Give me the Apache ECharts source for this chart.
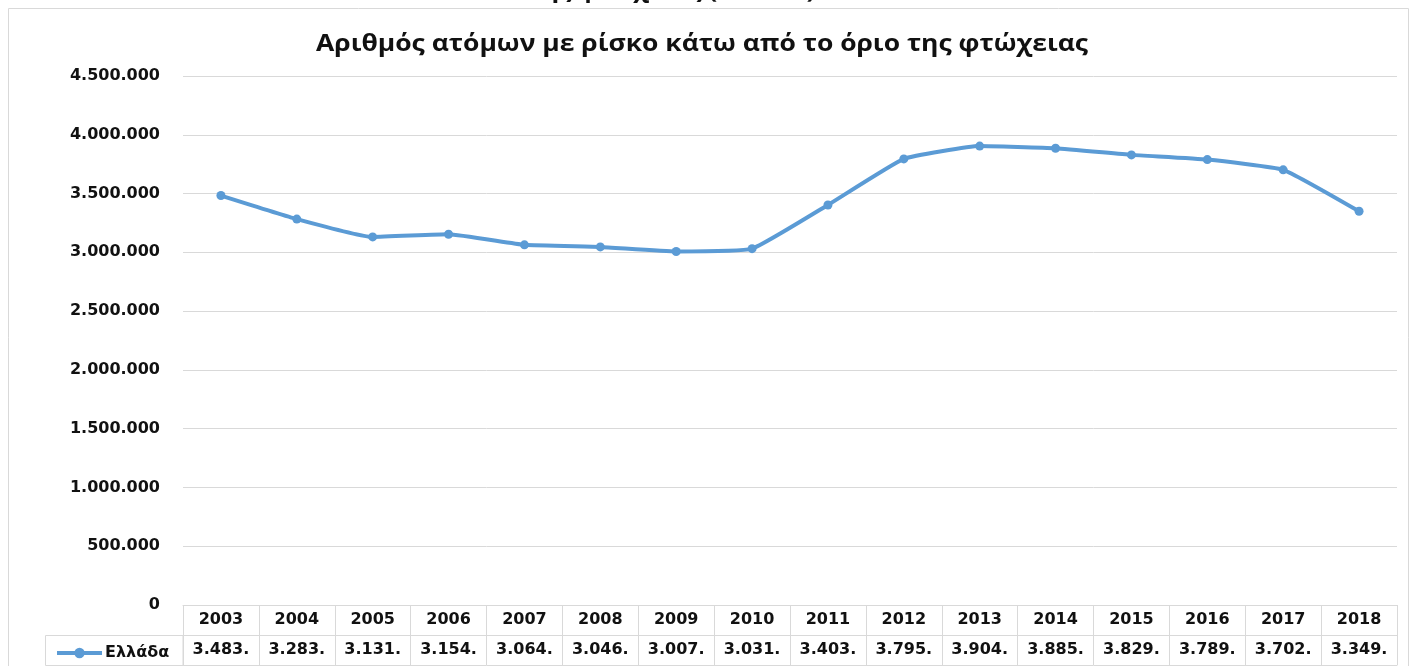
<!DOCTYPE html>
<html>
<head>
<meta charset="utf-8">
<script src="https://cdn.jsdelivr.net/npm/echarts@6/dist/echarts.min.js"></script>
<style>
  html, body { margin: 0; padding: 0; background: #fff; }
  #chart { width: 1410px; height: 666px; }
</style>
</head>
<body>
<div id="chart"></div>
<script>
// χρόνια (κατηγορίες του άξονα x)
const years = ['2003', '2004', '2005', '2006', '2007', '2008', '2009', '2010',
  '2011', '2012', '2013', '2014', '2015', '2016', '2017', '2018']
// άτομα σε κίνδυνο φτώχειας, Ελλάδα
const greece = [3483000, 3283000, 3131000, 3154000, 3064000, 3046000, 3007000, 3031000,
  3403000, 3795000, 3904000, 3885000, 3829000, 3789000, 3702000, 3349000]
const seriesName = 'Ελλάδα'
const yTicks = [0, 4500000, 500000] // min, max, interval

const fontColor = '#111'
const borderColor = '#d9d9d9'
const lineColor = '#5b9bd5'
const tickFont = 'DejaVu Sans'

// 4500000 -> 4.500.000
const fmt = v => String(v).replace(/\B(?=(\d{3})+(?!\d))/g, '.')
// το κελί του πίνακα κόβει την τιμή όπως στο Excel: 3.483.000 -> 3.483.
const cell = v => fmt(v).slice(0, 6)

const labelStyle = {
  color: fontColor,
  fontFamily: tickFont,
  fontWeight: 'bold',
  fontSize: 16
}

const myChart = echarts.init(document.getElementById('chart'))

myChart.setOption({
  animation: false,
  legend: {
    data: [seriesName],
    left: 50,
    top: 640,
    itemWidth: 45,
    itemHeight: 13,
    itemGap: 0,
    lineStyle: {width: 4},
    textStyle: {...labelStyle, padding: [0, 0, 0, -2]}
  },
  grid: {
    left: 183,
    right: 13,
    top: 76,
    bottom: 61
  },
  xAxis: [
    {
      type: 'category',
      data: years,
      position: 'bottom',
      axisLine: {lineStyle: {color: borderColor, width: 1}},
      axisTick: {show: true, length: 30, interval: 0, lineStyle: {color: borderColor}},
      axisLabel: {...labelStyle, interval: 0, margin: 15, verticalAlign: 'middle'}
    },
    {
      type: 'category',
      data: years,
      position: 'bottom',
      offset: 30,
      axisLine: {lineStyle: {color: borderColor, width: 1}},
      axisTick: {show: true, length: 30, interval: 0, lineStyle: {color: borderColor}},
      axisLabel: {
        ...labelStyle,
        interval: 0,
        margin: 15,
        verticalAlign: 'middle',
        formatter: (value, index) => cell(greece[index])
      }
    },
    {
      type: 'category',
      data: years,
      position: 'bottom',
      offset: 60,
      axisLine: {lineStyle: {color: borderColor, width: 1}},
      axisTick: {show: false},
      axisLabel: {show: false}
    }
  ],
  yAxis: {
    type: 'value',
    min: yTicks[0],
    max: yTicks[1],
    interval: yTicks[2],
    axisLine: {show: false},
    axisTick: {show: false},
    axisLabel: {...labelStyle, margin: 23, formatter: fmt},
    splitLine: {lineStyle: {color: borderColor, width: 1}}
  },
  series: [
    {
      name: seriesName,
      type: 'line',
      xAxisIndex: 0,
      data: greece,
      smooth: 0.12,
      symbol: 'circle',
      symbolSize: 9,
      color: lineColor,
      lineStyle: {width: 4, color: lineColor},
      itemStyle: {color: lineColor}
    }
  ],
  graphic: [
    // πλαίσιο γραφήματος
    {
      type: 'rect',
      shape: {x: 8.5, y: 8.5, width: 1400, height: 700},
      style: {fill: 'none', stroke: borderColor, lineWidth: 1},
      silent: true
    },
    // κελί του υπομνήματος στον πίνακα
    {
      type: 'rect',
      shape: {x: 45.5, y: 635.5, width: 137.5, height: 30},
      style: {fill: 'none', stroke: borderColor, lineWidth: 1},
      silent: true
    },
    // τίτλος γραφήματος (λίγο τεντωμένος οριζόντια όπως στο πρωτότυπο)
    {
      type: 'text',
      x: 702,
      y: 44,
      scaleX: 1.15,
      style: {
        text: 'Αριθμός ατόμων με ρίσκο κάτω από το όριο της φτώχειας',
        fill: fontColor,
        font: 'bold 23px "Open Sans"',
        align: 'center',
        verticalAlign: 'middle'
      },
      silent: true
    },
    // κομμένος τίτλος από πάνω
    {
      type: 'text',
      x: 672,
      y: 3,
      scaleX: 1.15,
      style: {
        text: 'της φτώχειας (ΕΕ-SILC)',
        fill: fontColor,
        font: 'bold 22px "Open Sans"',
        align: 'center',
        verticalAlign: 'bottom'
      },
      silent: true
    }
  ]
})
</script>
</body>
</html>
